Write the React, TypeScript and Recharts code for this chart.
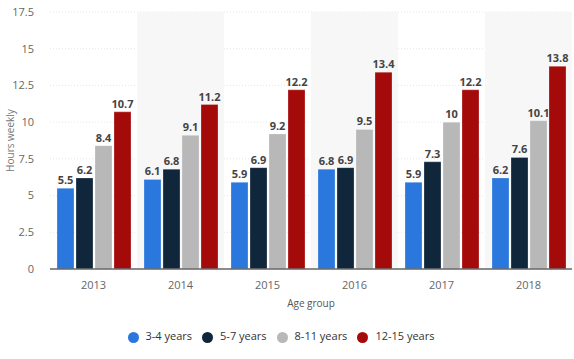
import { BarChart, Bar, XAxis, YAxis, CartesianGrid, Legend, LabelList, ReferenceArea } from 'recharts'

const years = ['2013', '2014', '2015', '2016', '2017', '2018']
const age34 = [5.5, 6.1, 5.9, 6.8, 5.9, 6.2]
const age57 = [6.2, 6.8, 6.9, 6.9, 7.3, 7.6]
const age811 = [8.4, 9.1, 9.2, 9.5, 10, 10.1]
const age1215 = [10.7, 11.2, 12.2, 13.4, 12.2, 13.8]
const yTicks = [0, 2.5, 5, 7.5, 10, 12.5, 15, 17.5]

const series = [
  { key: 'a', name: '3-4 years', color: '#2a77dd' },
  { key: 'b', name: '5-7 years', color: '#10263b' },
  { key: 'c', name: '8-11 years', color: '#b8b8b8' },
  { key: 'd', name: '12-15 years', color: '#a50a0a' },
]

const data = years.map((year, i) => ({
  year,
  a: age34[i],
  b: age57[i],
  c: age811[i],
  d: age1215[i],
}))

const font = '"Open Sans", sans-serif'

export default function App() {
  return (
    <div style={{ position: 'absolute', left: 0, top: 0, width: 574, height: 359, background: '#fff', fontFamily: font }}>
      <BarChart
        width={574}
        height={359}
        data={data}
        margin={{ top: 12, right: 2, left: 0, bottom: 0 }}
        barCategoryGap={7}
        barGap={2}
      >
        {years.map((y, i) =>
          i % 2 === 1 ? (
            <ReferenceArea key={y} x1={y} x2={y} fill="#f7f7f7" fillOpacity={1} stroke="none" ifOverflow="visible" />
          ) : null
        )}
        <CartesianGrid vertical={false} stroke="#e6e6e6" strokeDasharray="1 2" />
        <XAxis
          dataKey="year"
          height={45}
          tickLine={false}
          axisLine={{ stroke: '#666', strokeWidth: 1.5 }}
          tick={{ fill: '#666', fontSize: 11, fontFamily: font }}
          tickMargin={6}
          label={{ value: 'Age group', position: 'insideBottom', offset: 7, fill: '#555', fontSize: 10, fontFamily: font }}
        />
        <YAxis
          width={50}
          domain={[0, 17.5]}
          ticks={yTicks}
          interval={0}
          axisLine={false}
          tickLine={false}
          tick={{ fill: '#666', fontSize: 11, fontFamily: font }}
          tickMargin={10}
          label={{ value: 'Hours weekly', angle: -90, position: 'insideLeft', offset: 10, textAnchor: 'middle', fill: '#777', fontSize: 10, fontFamily: font }}
        />
        <Legend
          verticalAlign="bottom"
          iconType="circle"
          iconSize={11}
          itemSorter="dataKey"
          wrapperStyle={{ height: 45, boxSizing: 'border-box', paddingTop: 14, fontSize: 11, fontFamily: font }}
          formatter={(value) => <span style={{ color: '#333', fontWeight: 500, marginLeft: 3 }}>{value}</span>}
        />
        {series.map((s) => (
          <Bar key={s.key} dataKey={s.key} name={s.name} fill={s.color} stroke="#ffffff" strokeOpacity={0.5} strokeWidth={0.5} isAnimationActive={false}>
            <LabelList dataKey={s.key} position="top" offset={4} fill="#444" fontSize={11} fontWeight="bold" fontFamily={font} />
          </Bar>
        ))}
      </BarChart>
    </div>
  )
}
